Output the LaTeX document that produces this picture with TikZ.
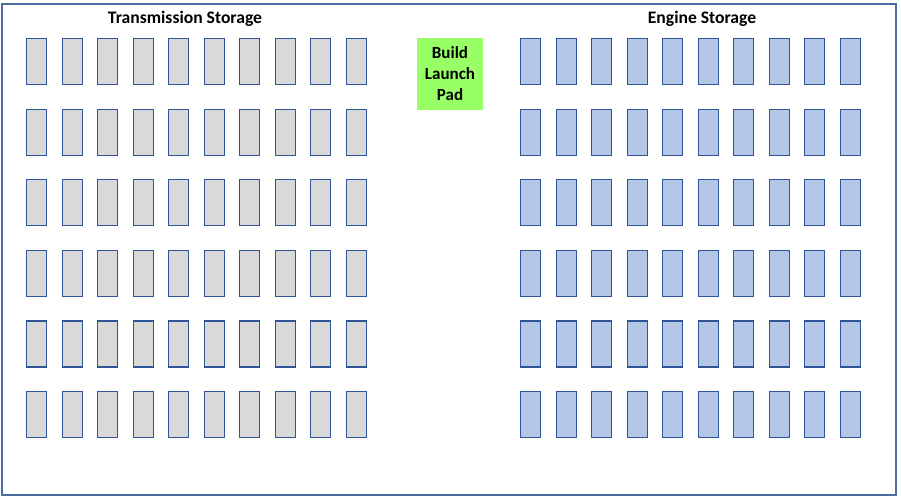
\documentclass[tikz,border=0pt]{standalone}
\usepackage{fontspec}
\setmainfont{Carlito}
\definecolor{slotedge}{HTML}{2F5597}
\definecolor{slotgray}{HTML}{D9D9D9}
\definecolor{slotblue}{HTML}{B4C7E7}
\definecolor{padgreen}{HTML}{99FF66}
\definecolor{framecol}{HTML}{4A6B9E}
\begin{document}
\begin{tikzpicture}[x=1pt, y=-1pt,
	transslot/.style={rectangle, draw=slotedge, fill=slotgray, line width=1.2pt, minimum width=20pt, minimum height=46pt, inner sep=0pt, anchor=north west},
	engineslot/.style={transslot, fill=slotblue},
	padbox/.style={rectangle, fill=padgreen, minimum width=66pt, minimum height=72pt, align=center, font=\bfseries\fontsize{17}{21}\selectfont},
	titletext/.style={font=\bfseries\fontsize{17.6}{20}\selectfont}]
		\useasboundingbox (0,0) rectangle (901,497);
		\draw [draw=framecol, line width=2pt] (2,4) rectangle (896,495);
		
		\node (texttrans) [titletext] at (185,19) {Transmission Storage};
		\node (textengine) [titletext] at (702,19) {Engine Storage};
		
		\node (rectpad) [padbox] at (450,74) {Build\\Launch\\Pad};
		
		\foreach \r in {0,...,5}
			\foreach \c in {0,...,9}
			{
				\node (recttrans-\r-\c) [transslot] at ({26+35.5*\c},{38+70.6*\r}) {};
				\node (rectengine-\r-\c) [engineslot] at ({520+35.5*\c},{38+70.6*\r}) {};
			}
		
		\end{tikzpicture}
\end{document}
